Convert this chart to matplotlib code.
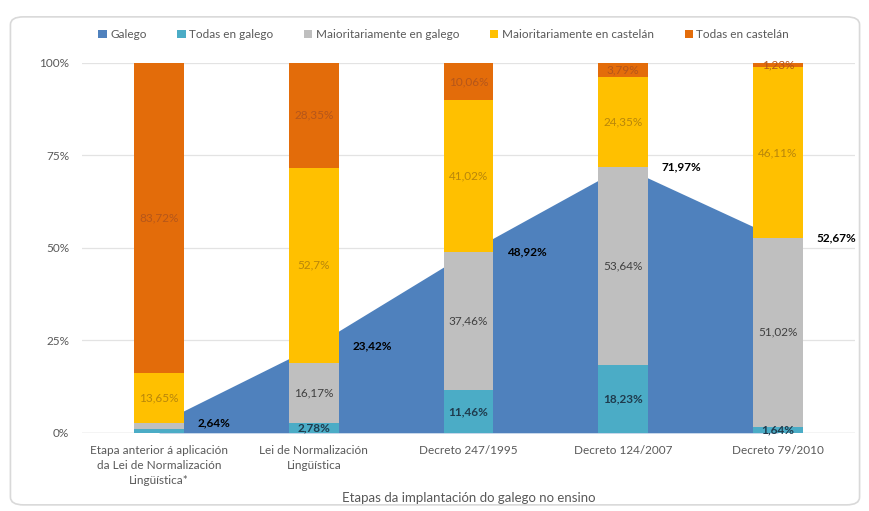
import matplotlib.pyplot as plt
from matplotlib.patches import FancyBboxPatch
import numpy as np

plt.rcParams['font.family'] = ['Lato', 'DejaVu Sans']

etapas = [
    "Etapa anterior á aplicación\nda Lei de Normalización\nLingüística*",
    "Lei de Normalización\nLingüística",
    "Decreto 247/1995",
    "Decreto 124/2007",
    "Decreto 79/2010",
]
galego = [2.64, 23.42, 48.92, 71.97, 52.67]
todas_galego = [1.00, 2.78, 11.46, 18.23, 1.64]
maior_galego = [1.63, 16.17, 37.46, 53.64, 51.02]
maior_castelan = [13.65, 52.7, 41.02, 24.35, 46.11]
todas_castelan = [83.72, 28.35, 10.06, 3.79, 1.23]

series = [
    ("Todas en galego", todas_galego, "#4bacc6", "#1f3b4d"),
    ("Maioritariamente en galego", maior_galego, "#bfbfbf", "#404040"),
    ("Maioritariamente en castelán", maior_castelan, "#ffc000", "#b8860b"),
    ("Todas en castelán", todas_castelan, "#e36c0a", "#b5561a"),
]

def fmt(v):
    s = f"{v:.2f}".rstrip("0").rstrip(".")
    return s.replace(".", ",") + "%"

fig = plt.figure(figsize=(8.7, 5.11), dpi=100)
fig.patches.append(FancyBboxPatch((0.012, 0.012), 0.976, 0.955,
                                  boxstyle="round,pad=0,rounding_size=0.015",
                                  transform=fig.transFigure, fc="white",
                                  ec="#d9d9d9", lw=1.2, zorder=-10))
ax = fig.add_axes([0.094, 0.153, 0.889, 0.724])

x = np.arange(len(etapas))
# Galego share drawn as an area behind the stacked bars
ax.fill_between(x, galego, color="#4f81bd", lw=0, zorder=1, label="Galego")

w = 0.32
bottom = np.zeros(len(etapas))
for name, vals, col, tcol in series:
    vals = np.array(vals)
    ax.bar(x, vals, w, bottom=bottom, color=col, zorder=2, label=name)
    for xi, b, v in zip(x, bottom, vals):
        # first stage has galego slivers too thin for a label
        if xi == 0 and v < 2:
            continue
        ax.text(xi, b + v / 2, fmt(v), ha="center", va="center", fontsize=8.5,
                color=tcol, fontweight="bold" if name == "Todas en galego" else "normal",
                zorder=3)
    bottom += vals

for xi, v in zip(x, galego):
    ax.text(xi + 0.25, v, fmt(v), ha="left", va="center", fontsize=8.5,
            fontweight="bold", color="black", zorder=3)

ax.set_xlim(-0.5, 4.5)
ax.set_ylim(0, 100)
ax.set_yticks([0, 25, 50, 75, 100])
ax.set_yticklabels(["0%", "25%", "50%", "75%", "100%"])
ax.set_xticks(x)
ax.set_xticklabels(etapas, linespacing=1.45)
ax.tick_params(length=0, labelsize=8.5, labelcolor="#595959", pad=9)
ax.grid(axis="y", color="#e3e3e3", lw=0.9, zorder=0)
ax.set_axisbelow(True)
for s in ax.spines.values():
    s.set_visible(False)
ax.axhline(0, color="#d9d9d9", lw=1, zorder=0.5)

ax.set_xlabel("Etapas da implantación do galego no ensino", fontsize=9.5,
              color="#595959", labelpad=4)

handles, labels = ax.get_legend_handles_labels()
fig.legend(handles, labels, loc="center", bbox_to_anchor=(0.51, 0.932), ncol=5,
           frameon=False, fontsize=8.5, labelcolor="#595959", handlelength=0.7,
           handleheight=0.7, handletextpad=0.3, columnspacing=2.6)

fig.savefig("out.png", dpi=100)
